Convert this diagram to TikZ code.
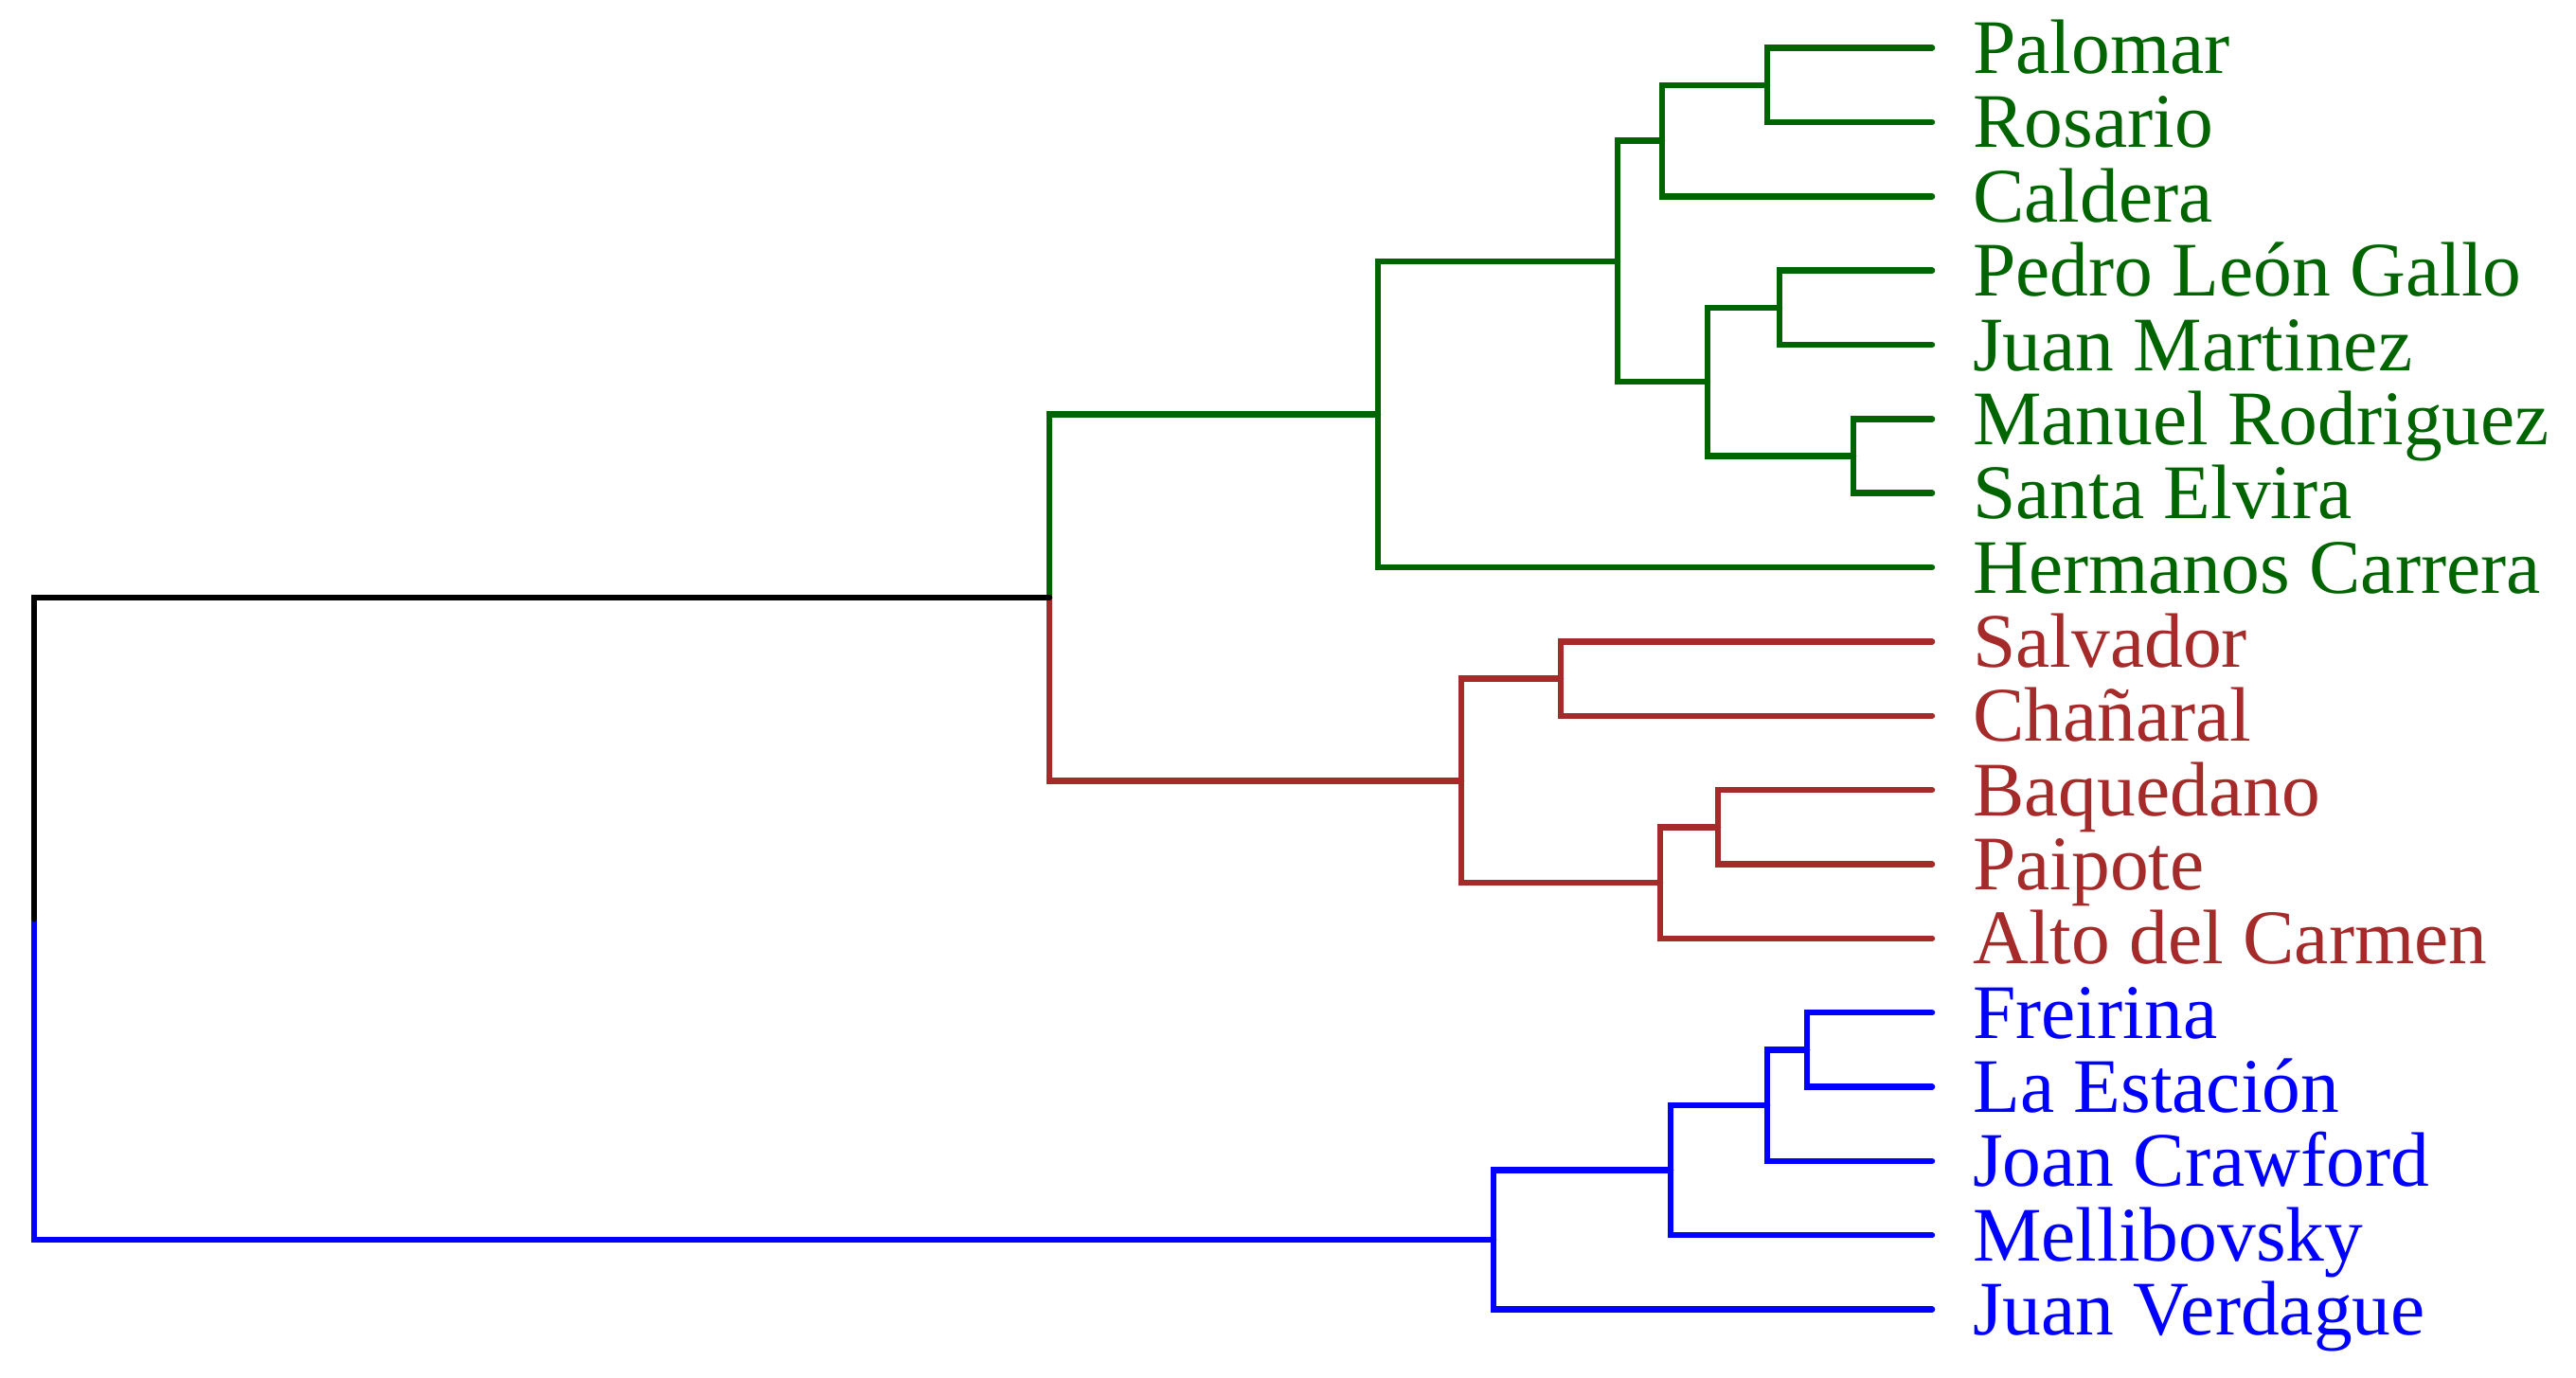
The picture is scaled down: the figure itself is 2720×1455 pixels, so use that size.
\documentclass[tikz,border=0pt]{standalone}
\usepackage{fontspec}
\setmainfont{Liberation Serif}
\definecolor{cgreen}{RGB}{0,100,0}
\definecolor{cred}{RGB}{165,42,42}
\definecolor{cblue}{RGB}{0,0,255}
\tikzset{
  link/.style={line width=6.5pt, line cap=round, line join=miter},
  leaflabel/.style={anchor=base west, inner sep=0pt, font=\fontsize{81.5}{90}\selectfont}
}
\begin{document}
\begin{tikzpicture}[x=1pt, y=-1pt]
\useasboundingbox (0,0) rectangle (2720,1455);
% leaf ends
\foreach \i/\y in {0/50.6,1/129.0,2/207.3,3/285.7,4/364.0,5/442.4,6/520.7,7/599.1,8/677.4,9/755.8,10/834.1,11/912.5,12/990.8,13/1069.2,14/1147.5,15/1225.9,16/1304.2,17/1382.6}{
  \coordinate (l\i) at (2040,\y);
}
% labels
\node[leaflabel, text=cgreen] (t0) at (2083,77.6) {Palomar};
\node[leaflabel, text=cgreen] (t1) at (2083,156.0) {Rosario};
\node[leaflabel, text=cgreen] (t2) at (2083,234.3) {Caldera};
\node[leaflabel, text=cgreen] (t3) at (2083,312.7) {Pedro León Gallo};
\node[leaflabel, text=cgreen] (t4) at (2083,391.0) {Juan Martinez};
\node[leaflabel, text=cgreen] (t5) at (2083,469.4) {Manuel Rodriguez};
\node[leaflabel, text=cgreen] (t6) at (2083,547.7) {Santa Elvira};
\node[leaflabel, text=cgreen] (t7) at (2083,626.1) {Hermanos Carrera};
\node[leaflabel, text=cred] (t8) at (2083,704.4) {Salvador};
\node[leaflabel, text=cred] (t9) at (2083,782.8) {Chañaral};
\node[leaflabel, text=cred] (t10) at (2083,861.1) {Baquedano};
\node[leaflabel, text=cred] (t11) at (2083,939.5) {Paipote};
\node[leaflabel, text=cred] (t12) at (2083,1017.8) {Alto del Carmen};
\node[leaflabel, text=cblue] (t13) at (2083,1096.2) {Freirina};
\node[leaflabel, text=cblue] (t14) at (2083,1174.5) {La Estación};
\node[leaflabel, text=cblue] (t15) at (2083,1252.9) {Joan Crawford};
\node[leaflabel, text=cblue] (t16) at (2083,1331.2) {Mellibovsky};
\node[leaflabel, text=cblue] (t17) at (2083,1409.6) {Juan Verdague};
% junctions
\coordinate (g1) at (1866,89.8);
\coordinate (g2) at (1755,148.55);
\coordinate (g3) at (1879,324.85);
\coordinate (g4) at (1957,481.55);
\coordinate (g5) at (1803,403.2);
\coordinate (g6) at (1708,275.875);
\coordinate (g7) at (1455,437.49);
\coordinate (r1) at (1648,716.6);
\coordinate (r2) at (1814,873.3);
\coordinate (r3) at (1753,932.05);
\coordinate (r4) at (1543,824.3);
\coordinate (b1) at (1908,1108.35);
\coordinate (b2) at (1866,1167.1);
\coordinate (b3) at (1764,1235.65);
\coordinate (b4) at (1577,1309.1);
\coordinate (gr) at (1108,630.9);
\coordinate (root) at (36,970);
% green cluster
\begin{scope}[link, draw=cgreen]
\draw (l0) -| (g1) |- (l1);
\draw (g1) -| (g2) |- (l2);
\draw (l3) -| (g3) |- (l4);
\draw (l5) -| (g4) |- (l6);
\draw (g3) -| (g5) |- (g4);
\draw (g2) -| (g6) |- (g5);
\draw (g6) -| (g7) |- (l7);
\draw (g7) -| (gr);
\end{scope}
% red cluster
\begin{scope}[link, draw=cred]
\draw (l8) -| (r1) |- (l9);
\draw (l10) -| (r2) |- (l11);
\draw (r2) -| (r3) |- (l12);
\draw (r1) -| (r4) |- (r3);
\draw (r4) -| (gr);
\end{scope}
% blue cluster
\begin{scope}[link, draw=cblue]
\draw (l13) -| (b1) |- (l14);
\draw (b1) -| (b2) |- (l15);
\draw (b2) -| (b3) |- (l16);
\draw (b3) -| (b4) |- (l17);
\draw (b4) -| (root);
\end{scope}
% root
\draw[link, draw=black] (gr) -| (root);
\end{tikzpicture}
\end{document}
